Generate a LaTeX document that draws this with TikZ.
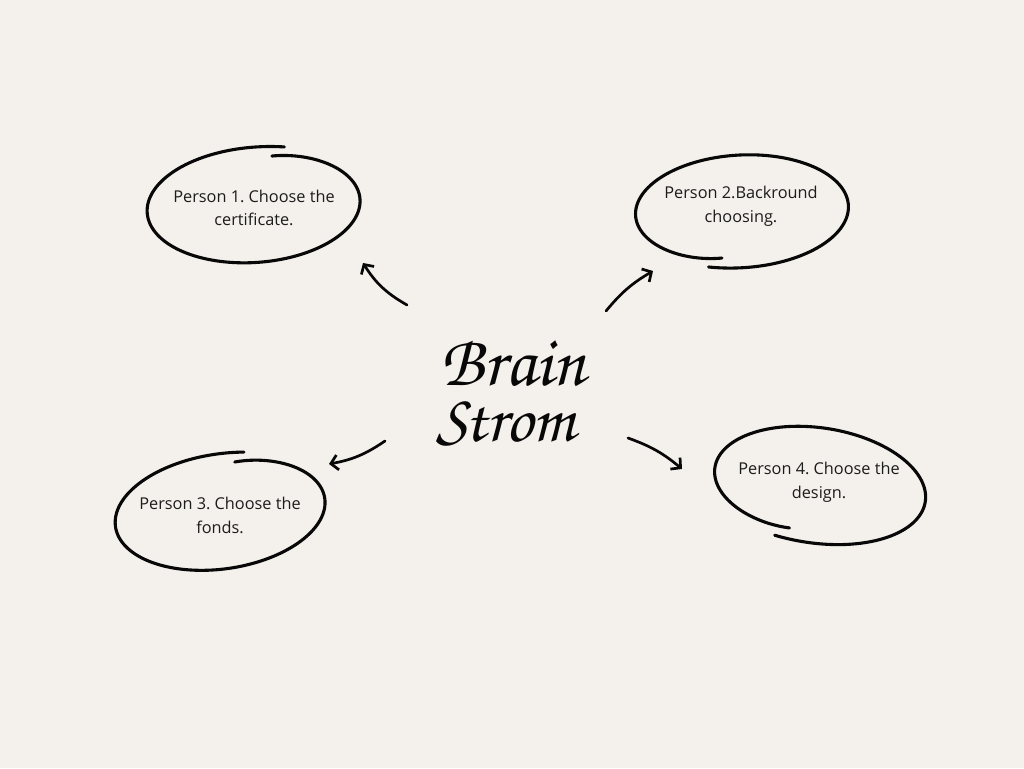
\documentclass[tikz,border=0pt]{standalone}
\usepackage{fontspec}
\setmainfont{Open Sans}
\newfontfamily\brainfont{TeX Gyre Chorus}
\usetikzlibrary{arrows.meta}
\definecolor{bg}{RGB}{244,240,235}
\definecolor{ink}{RGB}{8,8,8}
\frenchspacing
\tikzset{
  labeltext/.style={font=\fontsize{16.3}{23.5}\selectfont, align=center, text=ink!92, inner sep=0pt},
  hand/.style={draw=ink, line width=3.1pt, line cap=round, line join=round},
  arrowline/.style={draw=ink, line width=2.7pt, line cap=round,
    -{Straight Barb[length=7pt,width=15pt,line width=2.7pt]}},
  brain/.style={font=\brainfont\fontsize{72}{72}\selectfont, text=ink, inner sep=0pt},
  strom/.style={font=\brainfont\fontsize{68}{68}\selectfont, text=ink, inner sep=0pt},
}
% cx, cy, rx, ry, rot, t0, t1, dA, dB
\newcommand{\handloop}[9]{%
  \begin{scope}[shift={(#1,#2)}, rotate=#5]
    \draw[hand] plot[domain=0:1, samples=200, smooth, variable=\u]
      ({#3*(1-(#8)*(1-\u)^12-(#9)*\u^12)*cos(#6+(#7-#6)*\u)},
       {#4*(1-(#8)*(1-\u)^12-(#9)*\u^12)*sin(#6+(#7-#6)*\u)});
  \end{scope}}
\begin{document}
\begin{tikzpicture}[x=1pt,y=1pt]
\useasboundingbox (0,0) rectangle (1024,768);
\fill[bg] (0,0) rectangle (1024,768);

% hand-drawn loops
\handloop{254}{562.5}{107}{57}{4}{76.7}{-288.4}{0.133}{-0.039}
\handloop{741.5}{557}{107}{56}{3}{250.9}{616.3}{-0.024}{0.156}
\handloop{220.5}{256}{106}{57}{8}{76.6}{-287.2}{0.143}{-0.028}
\handloop{819.5}{283}{107}{57}{-9}{251.1}{615.8}{-0.05}{0.148}

% labels
\node[labeltext] (p1) at (254,560) {Person 1. Choose the\\certificate.};
\node[labeltext] (p2) at (741,561.5) {Person 2.Backround\\choosing.};
\node[labeltext] (p3) at (220,252.5) {Person 3. Choose the\\fonds.};
\node[labeltext] (p4) at (819,285.5) {Person 4. Choose the\\design.};

% centre title
\node[brain, anchor=base west] (brain) at (440,382) {Brain};
\node[strom, anchor=base west] (strom) at (436,326) {Strom};

% arrow end points
\coordinate (a1s) at (407,463);
\coordinate (a1e) at (363,505);
\coordinate (a2s) at (606,457);
\coordinate (a2e) at (653,497);
\coordinate (a3s) at (385,327);
\coordinate (a3e) at (329,304);
\coordinate (a4s) at (628,330);
\coordinate (a4e) at (682,299);

\draw[arrowline] (a1s) to[bend left=14] (a1e);
\draw[arrowline] (a2s) to[bend left=10] (a2e);
\draw[arrowline] (a3s) to[bend left=12] (a3e);
\draw[arrowline] (a4s) to[bend left=10] (a4e);
\end{tikzpicture}
\end{document}
